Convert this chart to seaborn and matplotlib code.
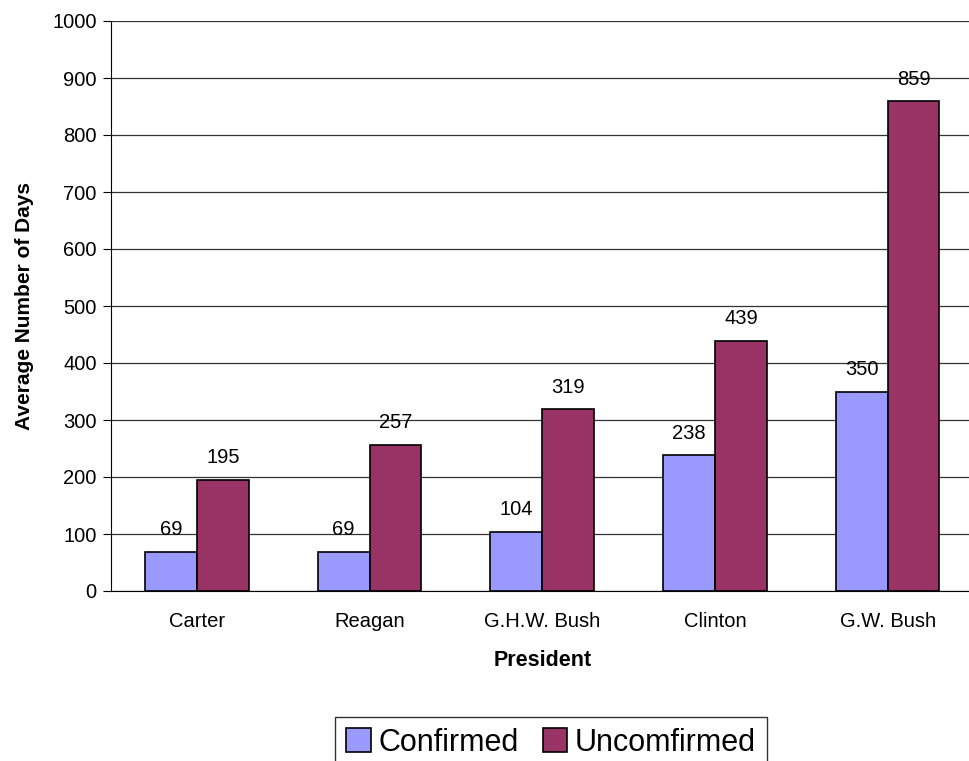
import pandas as pd
import numpy as np
import matplotlib.pyplot as plt
import seaborn as sns

# data
presidents = ['Carter', 'Reagan', 'G.H.W. Bush', 'Clinton', 'G.W. Bush']
confirmed = [69, 69, 104, 238, 350]
unconfirmed = [195, 257, 319, 439, 859]

df = pd.DataFrame({
    'President': presidents * 2,
    'Days': confirmed + unconfirmed,
    'Status': ['Confirmed'] * 5 + ['Uncomfirmed'] * 5,
})

sns.set_style('white')
plt.rcParams['font.family'] = ['Liberation Sans', 'DejaVu Sans']
plt.rcParams['text.color'] = 'black'
plt.rcParams['axes.labelcolor'] = 'black'
plt.rcParams['xtick.color'] = 'black'
plt.rcParams['ytick.color'] = 'black'

fig = plt.figure(figsize=(9.69, 7.61), dpi=100)
ax = fig.add_axes([110.6 / 969, 1 - 591 / 761, (974 - 110.6) / 969, 570 / 761])

sns.barplot(data=df, x='President', y='Days', hue='Status', ax=ax,
            palette=['#9999FF', '#993366'], width=0.6,
            edgecolor='black', linewidth=1.2, saturation=1)

# value labels above each bar
for cont in ax.containers:
    ax.bar_label(cont, padding=9, fontsize=14.5)

ax.set_ylim(0, 1000)
ax.set_yticks(np.arange(0, 1001, 100))
ax.set_xlim(-0.5, 4.5)
ax.yaxis.grid(True, color='#333333', linewidth=0.9)
ax.set_axisbelow(True)

for s in ['top', 'right']:
    ax.spines[s].set_visible(False)
ax.spines['left'].set_color('black')
ax.spines['bottom'].set_color('black')

# ticks between categories on x axis
ax.set_xticks(np.arange(-0.5, 5, 1), minor=True)
ax.tick_params(axis='x', which='major', length=0, labelsize=14.5, pad=15)
ax.tick_params(axis='x', which='minor', length=5, color='#555555', direction='out')
ax.tick_params(axis='y', length=6, color='black', direction='out', labelsize=14.5, left=True, pad=4)

ax.set_xlabel('President', fontsize=15.5, fontweight='bold', labelpad=14)
ax.set_ylabel('Average Number of Days', fontsize=15, fontweight='bold', labelpad=13)

ax.legend(loc='upper center', bbox_to_anchor=(551 / 969, 1 - 717 / 761), bbox_transform=fig.transFigure,
          ncol=2, fontsize=22, frameon=True, fancybox=False, edgecolor='black',
          handlelength=0.8, handleheight=0.8, handletextpad=0.25, columnspacing=0.8,
          borderpad=0.35, borderaxespad=0, title=None)
ax.get_legend().get_frame().set_linewidth(1.0)

plt.savefig('out.png', dpi=100)
